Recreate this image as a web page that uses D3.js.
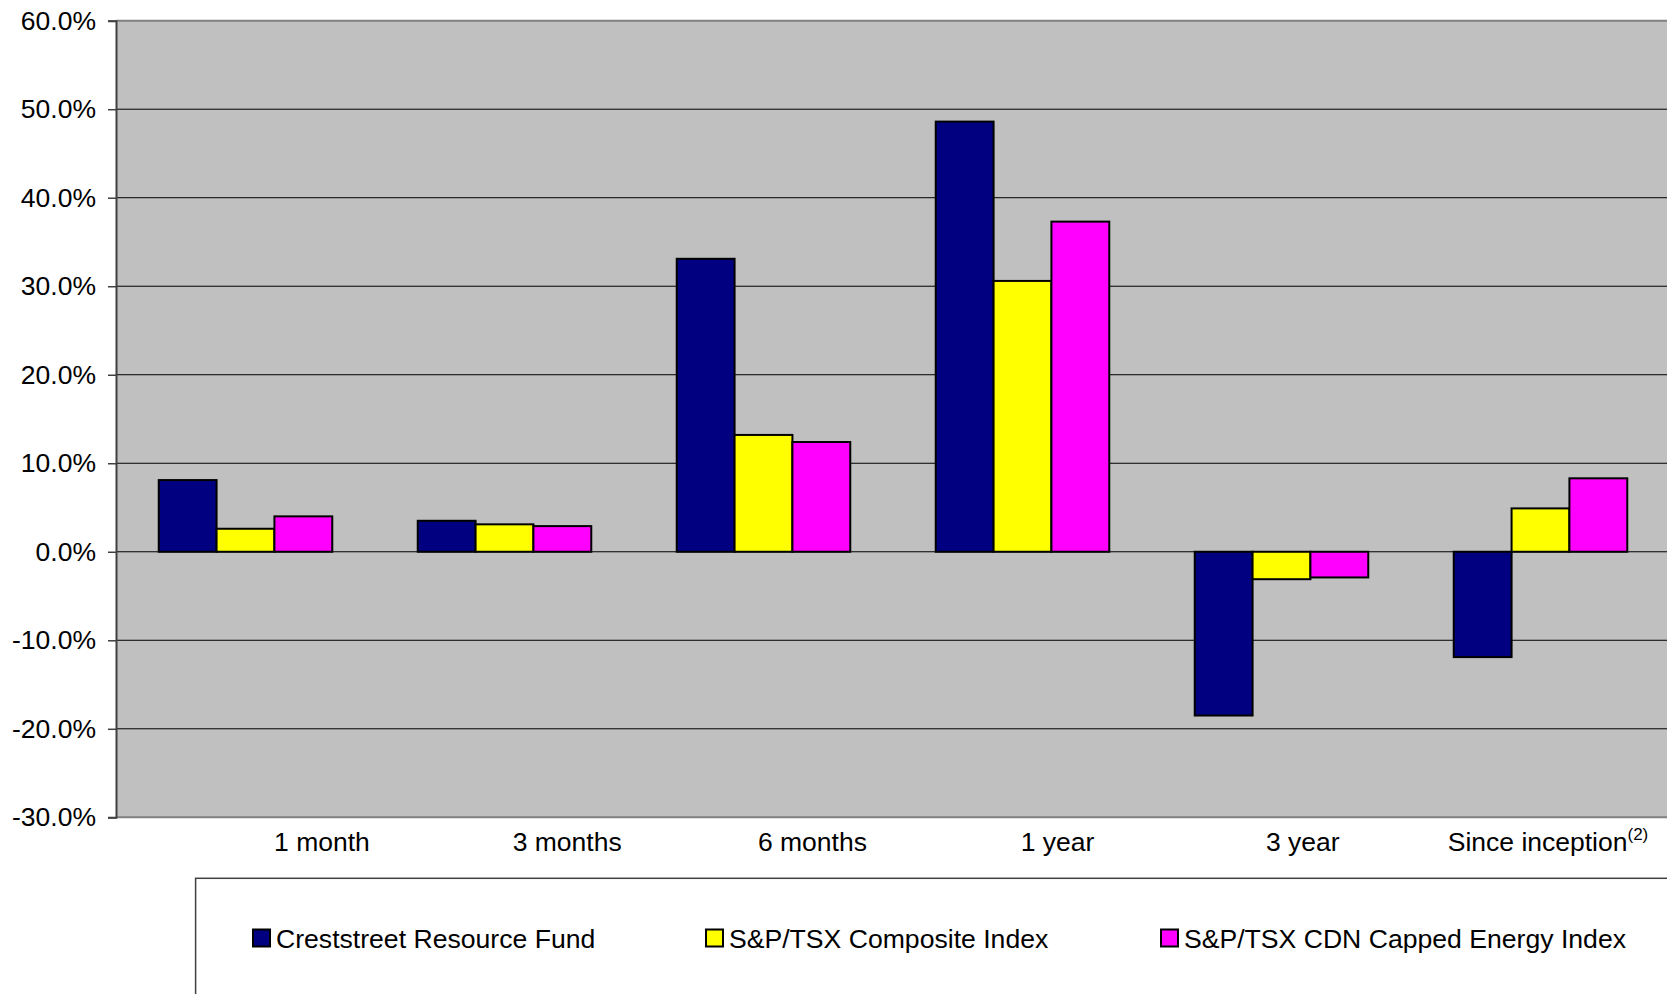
<!DOCTYPE html>
<html>
<head>
<meta charset="utf-8">
<script src="https://cdn.jsdelivr.net/npm/d3@7"></script>
<style>
  body { margin: 0; background: #fff; overflow: hidden; }
  svg { display: block; font-family: "Liberation Sans", Arial, sans-serif; }
</style>
</head>
<body>
<svg id="chart" width="1667" height="994"></svg>
<script>
'use strict';
// chart data
const categories = ["1 month", "3 months", "6 months", "1 year", "3 year", "Since inception"];
const seriesNames = ["Creststreet Resource Fund", "S&P/TSX Composite Index", "S&P/TSX CDN Capped Energy Index"];
const seriesColors = ["#000080", "#ffff00", "#ff00ff"];
const fundValues = [8.1, 3.5, 33.1, 48.6, -18.5, -11.9];
const compositeValues = [2.6, 3.1, 13.2, 30.6, -3.1, 4.9];
const energyValues = [4.0, 2.9, 12.4, 37.3, -2.9, 8.3];
const yTicks = [-30, -20, -10, 0, 10, 20, 30, 40, 50, 60];

const allValues = [fundValues, compositeValues, energyValues];

// plot area (runs past the right edge like the original)
const plotLeft = 116, plotRight = 1670, plotTop = 20.7, plotBottom = 817.3;

const svg = d3.select("#chart");

const x = d3.scaleBand()
  .domain(categories)
  .range([plotLeft, plotRight])
  .paddingInner(0.33)
  .paddingOuter(0.165);

const xs = d3.scaleBand()
  .domain(d3.range(seriesNames.length))
  .range([0, x.bandwidth()]);

const y = d3.scaleLinear()
  .domain([-30, 60])
  .range([plotBottom, plotTop]);

// category labels sit on their own spacing in the source picture
const xLabel = d3.scalePoint()
  .domain(categories)
  .range([322, 1548]);

// background
svg.append("rect")
  .attr("x", plotLeft).attr("y", plotTop)
  .attr("width", plotRight - plotLeft).attr("height", plotBottom - plotTop)
  .attr("fill", "#c0c0c0");

// grid lines
svg.append("g")
  .selectAll("line").data(yTicks.filter(t => t !== -30 && t !== 60)).join("line")
  .attr("x1", plotLeft).attr("x2", plotRight)
  .attr("y1", d => y(d)).attr("y2", d => y(d))
  .attr("stroke", "#000").attr("stroke-width", 1);

// top and bottom border of plot area
svg.append("line")
  .attr("x1", plotLeft).attr("x2", plotRight)
  .attr("y1", y(60)).attr("y2", y(60))
  .attr("stroke", "#808080").attr("stroke-width", 2);
svg.append("line")
  .attr("x1", plotLeft).attr("x2", plotRight)
  .attr("y1", y(-30)).attr("y2", y(-30))
  .attr("stroke", "#808080").attr("stroke-width", 2);

// bars
const rows = [];
categories.forEach((c, i) => {
  allValues.forEach((vals, s) => rows.push({ cat: c, s: s, v: vals[i] }));
});

svg.append("g")
  .selectAll("rect").data(rows).join("rect")
  .attr("x", d => x(d.cat) + xs(d.s))
  .attr("width", xs.bandwidth())
  .attr("y", d => y(Math.max(0, d.v)))
  .attr("height", d => Math.abs(y(d.v) - y(0)))
  .attr("fill", d => seriesColors[d.s])
  .attr("stroke", "#000")
  .attr("stroke-width", 2);

// y axis
const yAxis = d3.axisLeft(y)
  .tickValues(yTicks)
  .tickSize(8)
  .tickPadding(12)
  .tickFormat(d => d.toFixed(1) + "%");

const ya = svg.append("g")
  .attr("transform", `translate(${plotLeft},0)`)
  .call(yAxis);
ya.select(".domain").attr("stroke", "#404040").attr("stroke-width", 2);
ya.selectAll(".tick line").attr("stroke", "#404040").attr("stroke-width", 1.5);
ya.selectAll(".tick text")
  .attr("font-size", 26.5)
  .attr("fill", "#000")
  .attr("font-family", "Liberation Sans, Arial, sans-serif");

// category labels
const cl = svg.append("g")
  .selectAll("text").data(categories).join("text")
  .attr("x", d => xLabel(d))
  .attr("y", 851)
  .attr("text-anchor", "middle")
  .attr("font-size", 26.5)
  .attr("fill", "#000")
  .text(d => d);
cl.filter(d => d === "Since inception")
  .append("tspan")
  .attr("dy", -11)
  .attr("font-size", 17)
  .text("(2)");

// legend
svg.append("rect")
  .attr("x", 195.6).attr("y", 878.3)
  .attr("width", 1600).attr("height", 200)
  .attr("fill", "#fff")
  .attr("stroke", "#404040").attr("stroke-width", 1.5);

const legendX = [253, 706, 1161];
const lg = svg.append("g")
  .selectAll("g").data(seriesNames).join("g")
  .attr("transform", (d, i) => `translate(${legendX[i]},929.5)`);
lg.append("rect")
  .attr("width", 17).attr("height", 17)
  .attr("fill", (d, i) => seriesColors[i])
  .attr("stroke", "#000").attr("stroke-width", 2);
lg.append("text")
  .attr("x", 23).attr("y", 18)
  .attr("font-size", 26.6)
  .attr("fill", "#000")
  .text(d => d);
</script>
</body>
</html>
